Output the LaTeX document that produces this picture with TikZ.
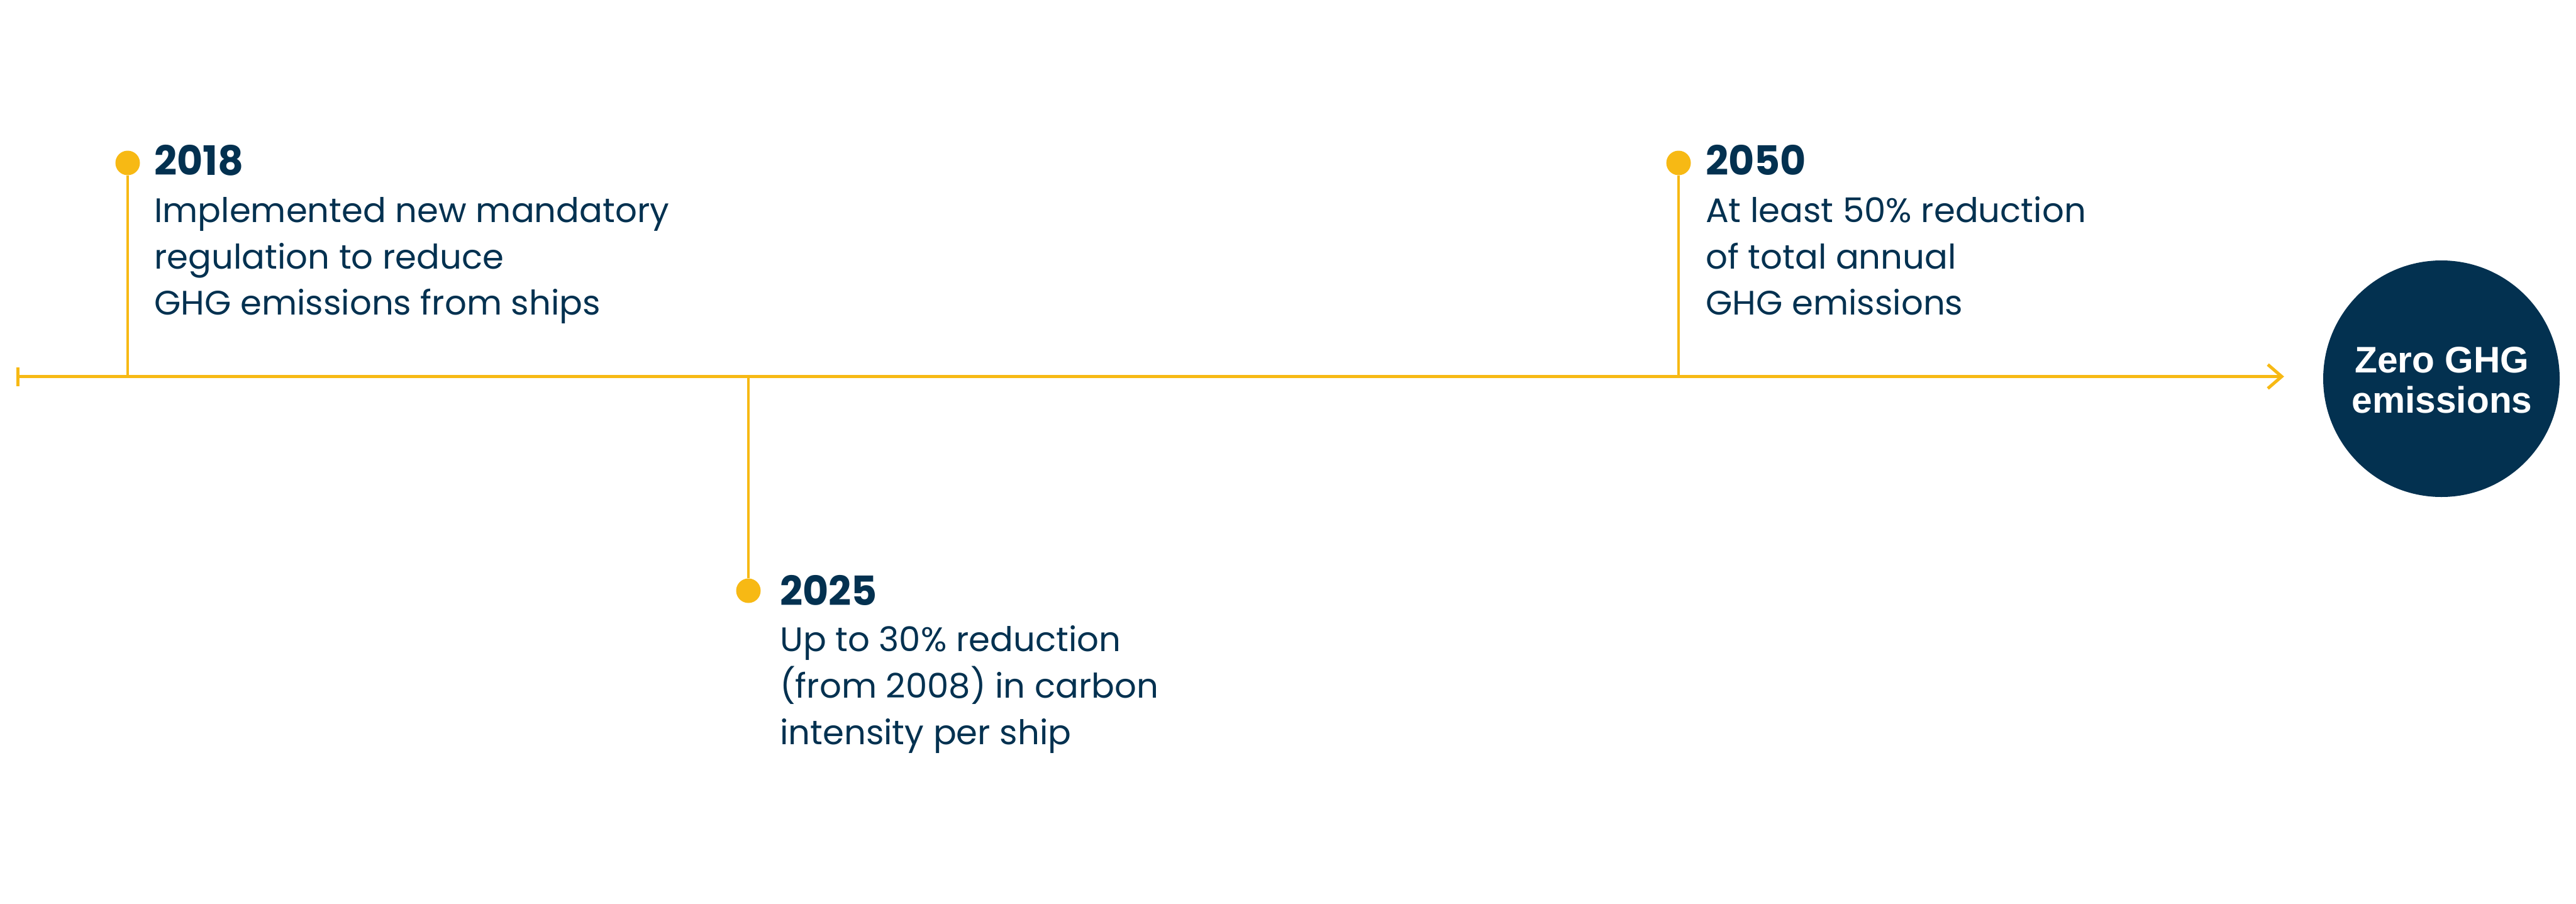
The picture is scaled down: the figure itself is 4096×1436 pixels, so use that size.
\documentclass[tikz,border=0pt]{standalone}
\usepackage{fontspec}
\setmainfont{Poppins}
\newfontfamily\bodyfont[FakeStretch=1.01]{Poppins}
\newfontfamily\yearfont[FakeStretch=0.98]{Poppins}
\newfontfamily\circfont{Liberation Sans}
\definecolor{tlyellow}{RGB}{247,185,20}
\definecolor{tlnavy}{RGB}{3,49,80}
\begin{document}
\begin{tikzpicture}[x=1pt,y=-1pt,
  axisline/.style={draw=tlyellow, line width=5pt},
  stemline/.style={draw=tlyellow, line width=4.5pt},
  dotnode/.style={circle, fill=tlyellow, minimum size=39pt, inner sep=0pt},
  yearnode/.style={anchor=base west, inner sep=0pt, text=tlnavy, font=\yearfont\bfseries\fontsize{64.5}{74}\selectfont},
  bodynode/.style={anchor=base west, inner sep=0pt, text=tlnavy, font=\bodyfont\fontsize{54}{74}\selectfont},
  goalnode/.style={circle, fill=tlnavy, minimum size=376pt, inner sep=0pt},
  goaltext/.style={anchor=base, inner sep=0pt, text=white, font=\circfont\bfseries\fontsize{58.7}{64}\selectfont}
]
\useasboundingbox (0,0) rectangle (4096,1436);
% axis
\coordinate (start) at (28.5,598.5);
\coordinate (tickT) at (28.5,584);
\coordinate (tickB) at (28.5,614);
\coordinate (end) at (3628,598.5);
\draw[axisline] (start) -- (end);
\draw[axisline] (tickT) -- (tickB);
\draw[axisline, line join=miter] (end) ++(-22,-19) -- (end) -- ++(-22,19);
% 2018
\node[dotnode] (d2018) at (203,259) {};
\coordinate (a2018) at (203,598.5);
\draw[stemline] (d2018) -- (a2018);
\node[yearnode] (y2018) at (245,278) {2018};
\node[bodynode] (t2018a) at (245,353) {Implemented new mandatory};
\node[bodynode] (t2018b) at (245,427) {regulation to reduce};
\node[bodynode] (t2018c) at (245,500) {GHG emissions from ships};
% 2025
\node[dotnode] (d2025) at (1190,939) {};
\coordinate (a2025) at (1190,598.5);
\draw[stemline] (a2025) -- (d2025);
\node[yearnode] (y2025) at (1240,962) {2025};
\node[bodynode] (t2025a) at (1240,1035.5) {Up to 30\% reduction};
\node[bodynode] (t2025b) at (1240,1109) {(from 2008) in carbon};
\node[bodynode] (t2025c) at (1240,1183) {intensity per ship};
% 2050
\node[dotnode] (d2050) at (2669,259) {};
\coordinate (a2050) at (2669,598.5);
\draw[stemline] (d2050) -- (a2050);
\node[yearnode] (y2050) at (2712,278) {2050};
\node[bodynode] (t2050a) at (2712,353) {At least 50\% reduction};
\node[bodynode] (t2050b) at (2712,427) {of total annual};
\node[bodynode] (t2050c) at (2712,500) {GHG emissions};
% goal
\node[goalnode] (goal) at (3882,602) {};
\node[goaltext] (g1) at (3883,592) {Zero GHG};
\node[goaltext] (g2) at (3883,656) {emissions};
\end{tikzpicture}
\end{document}
